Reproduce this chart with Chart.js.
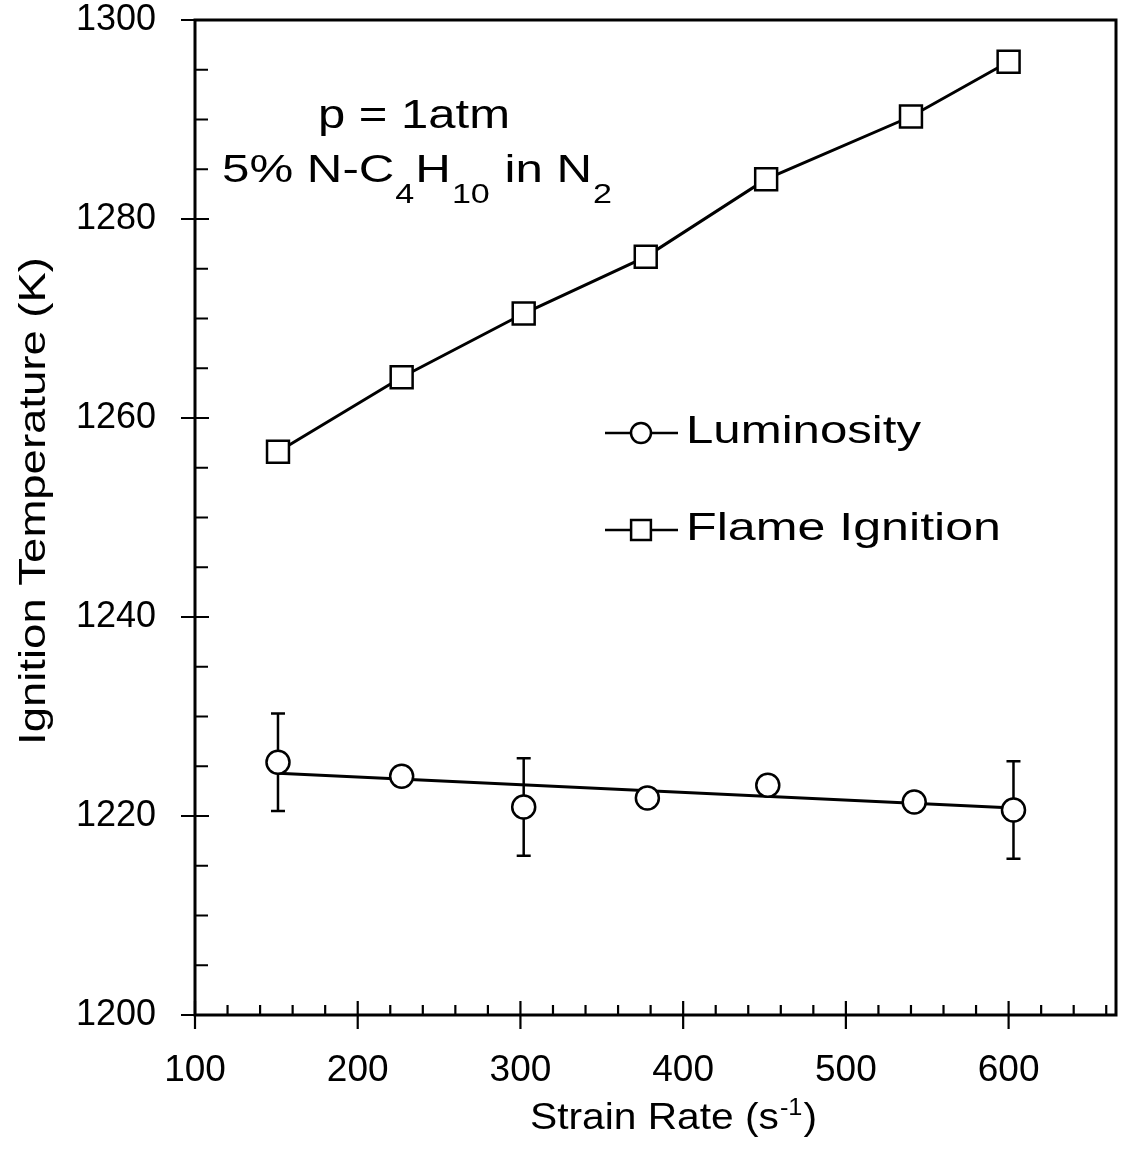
<!DOCTYPE html>
<html><head><meta charset="utf-8">
<script src="https://cdn.jsdelivr.net/npm/chart.js@4.4.0/dist/chart.umd.min.js"></script>
<style>html,body{margin:0;padding:0;background:#fff;}</style>
</head><body>
<canvas id="c" width="1126" height="1158" style="display:block;width:1126px;height:1158px"></canvas>
<script>
// ---- data ----
const strainLum = [151, 227, 302, 378, 452, 542, 603];
const tempLum   = [1225.4, 1224.0, 1220.9, 1221.8, 1223.1, 1221.4, 1220.6];
const errLum    = [4.9, 0, 4.9, 0, 0, 0, 4.9];
const strainFit = [151, 603];
const tempFit   = [1224.3, 1220.8];
const strainFlame = [151, 227, 302, 377, 451, 540, 600];
const tempFlame   = [1256.6, 1264.1, 1270.5, 1276.2, 1284.0, 1290.3, 1295.8];
const xTicks = [100, 200, 300, 400, 500, 600];
const yTicks = [1200, 1220, 1240, 1260, 1280, 1300];
const seriesNames = ['Luminosity', 'Flame Ignition'];
const xTitle = [['Strain Rate (s', 0], ['-1', 1], [')', 0]];
const yTitle = 'Ignition Temperature (K)';
const noteLine1 = 'p = 1atm';
const noteLine2 = [['5% N-C', 0], ['4', 1], ['H', 0], ['10', 1], [' in N', 0], ['2', 1]];

const FONT = '"Liberation Sans", Arial, Helvetica, sans-serif';
const TARGET = { left: 195, right: 1116, top: 20, bottom: 1015 };

function stretched(ctx, str, x, y, sx) {
  const w = ctx.measureText(str).width;
  ctx.save(); ctx.translate(x, y); ctx.scale(sx, 1); ctx.fillText(str, 0, 0); ctx.restore();
  return x + w * sx;
}
function drawParts(ctx, parts, x, y, targetW, fonts, dys, gap) {
  let nat = 0;
  parts.forEach(([t, f]) => { ctx.font = fonts[f]; nat += ctx.measureText(t).width; });
  const sx = (targetW - gap * (parts.length - 1)) / nat;
  parts.forEach(([t, f]) => { ctx.font = fonts[f]; x = stretched(ctx, t, x, y + dys[f], sx) + gap; });
}
function noOverhang(s) { s.paddingTop = 0; s.paddingBottom = 0; s.paddingLeft = 0; s.paddingRight = 0; }

const decor = {
  id: 'decor',
  beforeDatasetsDraw(chart) {
    const ctx = chart.ctx, xs = chart.scales.x, ys = chart.scales.y;
    ctx.save();
    ctx.strokeStyle = '#000'; ctx.lineWidth = 2.5;
    strainLum.forEach((sx, i) => {
      const e = errLum[i]; if (!e) return;
      const px = xs.getPixelForValue(sx);
      const y1 = ys.getPixelForValue(tempLum[i] + e), y2 = ys.getPixelForValue(tempLum[i] - e);
      ctx.beginPath();
      ctx.moveTo(px, y1); ctx.lineTo(px, y2);
      ctx.moveTo(px - 7, y1); ctx.lineTo(px + 7, y1);
      ctx.moveTo(px - 7, y2); ctx.lineTo(px + 7, y2);
      ctx.stroke();
    });
    ctx.restore();
  },
  afterDraw(chart) {
    const ctx = chart.ctx, xs = chart.scales.x, ys = chart.scales.y;
    const { left, right, top, bottom } = chart.chartArea;
    ctx.save();
    ctx.strokeStyle = '#000'; ctx.fillStyle = '#000';
    ctx.lineWidth = 3;
    ctx.strokeRect(left, top, right - left, bottom - top);
    ctx.lineWidth = 2.2;
    ctx.beginPath();
    xTicks.forEach(v => { const p = xs.getPixelForValue(v); ctx.moveTo(p, bottom + 14); ctx.lineTo(p, bottom - 14); });
    for (let v = xs.min + 20; v < xs.max; v += 20) {
      if (v % 100 === 0) continue;
      const p = xs.getPixelForValue(v); ctx.moveTo(p, bottom); ctx.lineTo(p, bottom - 10);
    }
    yTicks.forEach(v => { const p = ys.getPixelForValue(v); ctx.moveTo(left - 14, p); ctx.lineTo(left + 14, p); });
    for (let v = ys.min + 5; v < ys.max; v += 5) {
      if (v % 20 === 0) continue;
      const p = ys.getPixelForValue(v); ctx.moveTo(left, p); ctx.lineTo(left + 13, p);
    }
    ctx.stroke();

    ctx.textBaseline = 'alphabetic'; ctx.textAlign = 'left';
    drawParts(ctx, [[noteLine1, 0]], 318, 128, 192, ['41px ' + FONT], [0], 0);
    drawParts(ctx, noteLine2, 222, 182, 390, ['39px ' + FONT, '27px ' + FONT], [0, 21], 1);

    const legY = [433, 530];
    const legW = [235, 315];
    seriesNames.forEach((name, i) => {
      const ds = chart.data.datasets[i];
      ctx.lineWidth = 2.5;
      ctx.beginPath(); ctx.moveTo(605, legY[i]); ctx.lineTo(678, legY[i]); ctx.stroke();
      ctx.fillStyle = '#fff';
      Chart.helpers.drawPoint(ctx, { pointStyle: ds.pointStyle, radius: i === 0 ? 10 : 14, borderWidth: 2.2, rotation: 0 }, 641, legY[i]);
      ctx.fillStyle = '#000';
      drawParts(ctx, [[name, 0]], 686, legY[i] + 10, legW[i], ['39px ' + FONT], [0], 0);
    });

    drawParts(ctx, xTitle, 530, 1129, 287, ['37px ' + FONT, '23px ' + FONT], [0, -14], 1);

    ctx.save();
    ctx.translate(45, 745);
    ctx.rotate(-Math.PI / 2);
    drawParts(ctx, [[yTitle, 0]], 0, 0, 488, ['37px ' + FONT], [0], 0);
    ctx.restore();

    ctx.restore();
  }
};

new Chart(document.getElementById('c'), {
  type: 'scatter',
  data: {
    datasets: [
      { label: seriesNames[0], data: strainLum.map((v, i) => ({ x: v, y: tempLum[i] })),
        showLine: false, pointStyle: 'circle', pointRadius: 11.5, pointBorderWidth: 2.5,
        borderColor: '#000', pointBackgroundColor: '#fff', backgroundColor: '#fff' },
      { label: seriesNames[1], data: strainFlame.map((v, i) => ({ x: v, y: tempFlame[i] })),
        showLine: true, borderWidth: 3, pointStyle: 'rect', pointRadius: 15.5, pointBorderWidth: 2.5,
        borderColor: '#000', pointBackgroundColor: '#fff', backgroundColor: '#fff' },
      { label: 'fit', data: strainFit.map((v, i) => ({ x: v, y: tempFit[i] })),
        showLine: true, borderWidth: 3, pointRadius: 0, borderColor: '#000' }
    ]
  },
  options: {
    responsive: false, animation: false, devicePixelRatio: 1,
    layout: { autoPadding: false, padding: { left: 0, right: 1126 - TARGET.right, top: TARGET.top, bottom: 0 } },
    plugins: { legend: { display: false }, tooltip: { enabled: false } },
    scales: {
      x: {
        type: 'linear', min: 100, max: 666,
        grid: { display: false }, border: { display: false },
        afterBuildTicks: s => { s.ticks = xTicks.map(v => ({ value: v })); },
        afterFit: s => { s.height = 1158 - TARGET.bottom; noOverhang(s); },
        ticks: { color: '#000', font: { family: FONT, size: 37 }, padding: 26, maxRotation: 0, autoSkip: false,
                 callback: v => String(v) }
      },
      y: {
        type: 'linear', min: 1200, max: 1300,
        grid: { display: false }, border: { display: false },
        afterBuildTicks: s => { s.ticks = yTicks.map(v => ({ value: v })); },
        afterFit: s => { s.width = TARGET.left; noOverhang(s); },
        ticks: { color: '#000', font: { family: FONT, size: 36 }, padding: 31, autoSkip: false,
                 callback: v => String(v) }
      }
    }
  },
  plugins: [decor]
});
</script>
</body></html>
